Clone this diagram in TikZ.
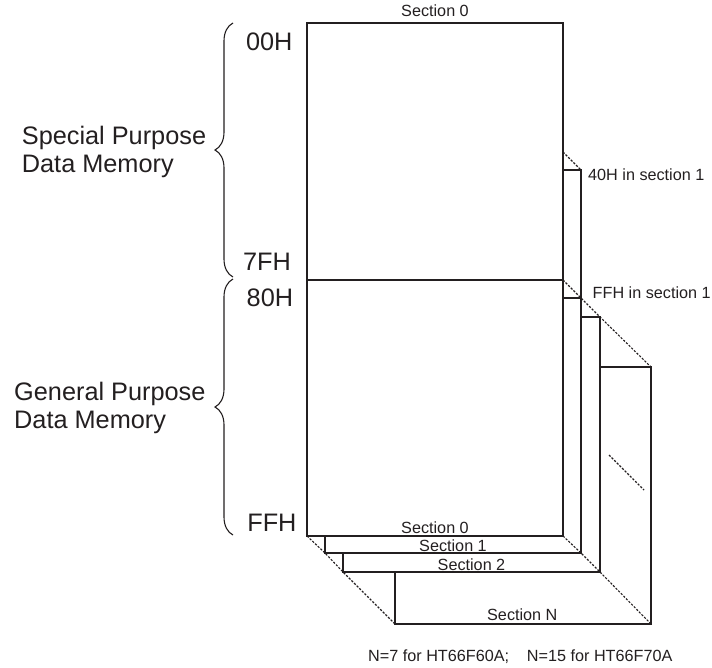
\documentclass[tikz,border=0pt]{standalone}
\usepackage{fontspec}
\setmainfont{Liberation Sans}
\usetikzlibrary{decorations.pathreplacing}
\definecolor{txt}{RGB}{35,31,32}
\begin{document}
\begin{tikzpicture}[x=1pt,y=-1pt,
  solidline/.style={line width=1.4pt,draw=txt},
  dashline/.style={line width=1.1pt,draw=txt,dash pattern=on 2.2pt off 1.5pt},
  bracestyle/.style={line width=1.1pt,draw=txt,decorate,decoration={brace,amplitude=18pt}},
  smalltxt/.style={text=txt,inner sep=0pt,font=\fontsize{16.2}{19}\selectfont},
  bigtxt/.style={text=txt,inner sep=0pt,font=\fontsize{25.3}{28}\selectfont},
  labtxt/.style={text=txt,inner sep=0pt,align=left,font=\fontsize{25.3}{28}\selectfont}]
\useasboundingbox (0,0) rectangle (712,667);
% coordinates
\coordinate (s0tl) at (307,23);
\coordinate (s0tr) at (563,23);
\coordinate (s0br) at (563,536);
\coordinate (s0bl) at (307,536);
\coordinate (midl) at (307,280);
\coordinate (midr) at (563,280);
\coordinate (h40a) at (563,152);
\coordinate (h40b) at (581,170);
\coordinate (h40c) at (563,170);
\coordinate (ffa) at (563,298);
\coordinate (ffb) at (581,298);
\coordinate (s1br) at (581,553);
\coordinate (s1bl) at (325,553);
\coordinate (s2t) at (600,317);
\coordinate (s2tl) at (581,317);
\coordinate (s2br) at (600,572);
\coordinate (s2bl) at (343,572);
\coordinate (sNt) at (651,367);
\coordinate (sNtl) at (600,367);
\coordinate (sNbr) at (651,624);
\coordinate (sNbl) at (395,624);
\coordinate (sNlt) at (395,572);
\coordinate (ca) at (609,455);
\coordinate (cb) at (644,490);
% section 0
\draw[solidline] (s0tl) rectangle (s0br);
\draw[solidline] (midl) -- (midr);
% section 1
\draw[solidline] (h40c) -- (h40b) -- (s1br) -- (s1bl) -- (s1bl |- s0bl);
\draw[solidline] (midr |- ffa) -- (ffb);
% section 2
\draw[solidline] (s2tl) -- (s2t) -- (s2br) -- (s2bl) -- (s2bl |- s1bl);
% section N
\draw[solidline] (sNtl) -- (sNt) -- (sNbr) -- (sNbl) -- (sNlt);
% dashed edges
\draw[dashline] (h40a) -- (h40b);
\draw[dashline] (midr) -- (ffb) -- (s2t) -- (sNt);
\draw[dashline] (s0bl) -- (s1bl) -- (s2bl) -- (sNbl);
\draw[dashline] (s0br) -- (s1br) -- (s2br) -- (sNbr);
\draw[dashline] (ca) -- (cb);
% braces
\draw[bracestyle] (233,277) -- (233,23);
\draw[bracestyle] (233,535) -- (233,279);
% texts
\node[smalltxt,anchor=base] (t0) at (435,16.7) {Section 0};
\node[smalltxt,anchor=base west] (t40) at (588,180) {40H in section 1};
\node[smalltxt,anchor=base west] (tff) at (592.5,298.3) {FFH in section 1};
\node[smalltxt,anchor=base] (b0) at (435,533.3) {Section 0};
\node[smalltxt,anchor=base] (b1) at (453,551.7) {Section 1};
\node[smalltxt,anchor=base] (b2) at (471.5,570) {Section 2};
\node[smalltxt,anchor=base] (bN) at (522.3,620) {Section N};
\node[smalltxt,anchor=base west] (note) at (368,661.7) {N=7 for HT66F60A;\hspace{1.1em}N=15 for HT66F70A};
\node[bigtxt,anchor=base east] (a00) at (292.7,50) {00H};
\node[bigtxt,anchor=base east] (a7f) at (291,270) {7FH};
\node[bigtxt,anchor=base east] (a80) at (293.3,306) {80H};
\node[bigtxt,anchor=base east] (aff) at (296.7,531.7) {FFH};
\node[labtxt,anchor=base west] (sp1) at (21.7,144) {Special Purpose};
\node[labtxt,anchor=base west] (sp2) at (21.7,172) {Data Memory};
\node[labtxt,anchor=base west] (gp1) at (14,400) {General Purpose};
\node[labtxt,anchor=base west] (gp2) at (14,428) {Data Memory};
\end{tikzpicture}
\end{document}
